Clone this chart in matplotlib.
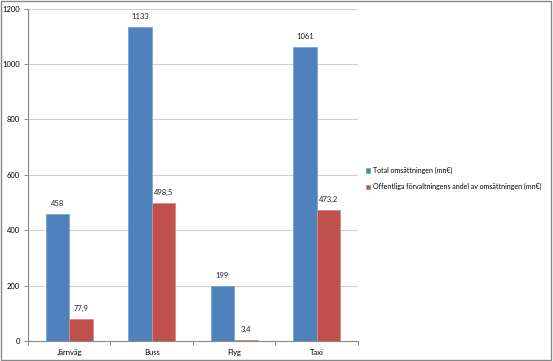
import numpy as np
import matplotlib.pyplot as plt
from matplotlib.patches import Rectangle

# data
categories = ["Järnväg", "Buss", "Flyg", "Taxi"]
total = [458, 1133, 199, 1061]
offentlig = [77.9, 498.5, 3.4, 473.2]
series_names = ["Total omsättningen (mn€)",
                "Offentliga förvaltningens andel av omsättningen (mn€)"]

plt.rcParams['font.family'] = ['Lato', 'DejaVu Sans']

blue = "#4F81BD"
red = "#C0504D"

fig = plt.figure(figsize=(5.53, 3.61), dpi=100)
ax = fig.add_axes([0.0506, 0.0554, 0.5967, 0.9206])

x = np.arange(len(categories))
w = 0.285
b1 = ax.bar(x - w / 2, total, w, color=blue, edgecolor="#7DA2D4", linewidth=0.6, label=series_names[0], zorder=3)
b2 = ax.bar(x + w / 2, offentlig, w, color=red, edgecolor="#D88A88", linewidth=0.6, label=series_names[1], zorder=3)

def fmt(v):
    s = f"{v:g}"
    return s.replace(".", ",")

for bars, vals in ((b1, total), (b2, offentlig)):
    for r, v in zip(bars, vals):
        ax.annotate(fmt(v), (r.get_x() + r.get_width() / 2, v), xytext=(0, 5),
                    textcoords="offset points", ha="center", va="bottom", fontsize=5.5, color="#222222")

ax.set_xlim(-0.5, len(categories) - 0.5)
ax.set_ylim(0, 1200)
ax.set_yticks(range(0, 1201, 200))
ax.set_xticks(x)
ax.set_xticklabels(categories)
ax.set_xticks(np.arange(-0.5, len(categories)), minor=True)
ax.tick_params(axis="x", which="major", length=0, labelsize=5.5, pad=6)
ax.tick_params(axis="x", which="minor", length=3, color="#888888", width=0.7)
ax.tick_params(axis="y", length=3, color="#888888", width=0.7, labelsize=5.5, pad=3)

ax.grid(axis="y", color="#D0D0D0", linewidth=0.8, zorder=0)
for s in ["top", "right"]:
    ax.spines[s].set_visible(False)
for s in ["left", "bottom"]:
    ax.spines[s].set_color("#888888")
    ax.spines[s].set_linewidth(0.8)

fig.legend(handles=[b1, b2], loc="center left", bbox_to_anchor=(0.657, 0.505), frameon=False,
           fontsize=5.0, handlelength=0.6, handleheight=0.6, handletextpad=0.4, labelspacing=1.3,
           borderaxespad=0)

fig.patches.append(Rectangle((0.002, 0.003), 0.995, 0.993, transform=fig.transFigure,
                             fill=False, edgecolor="#888888", linewidth=1, zorder=10))

fig.savefig("out.png", dpi=100)
